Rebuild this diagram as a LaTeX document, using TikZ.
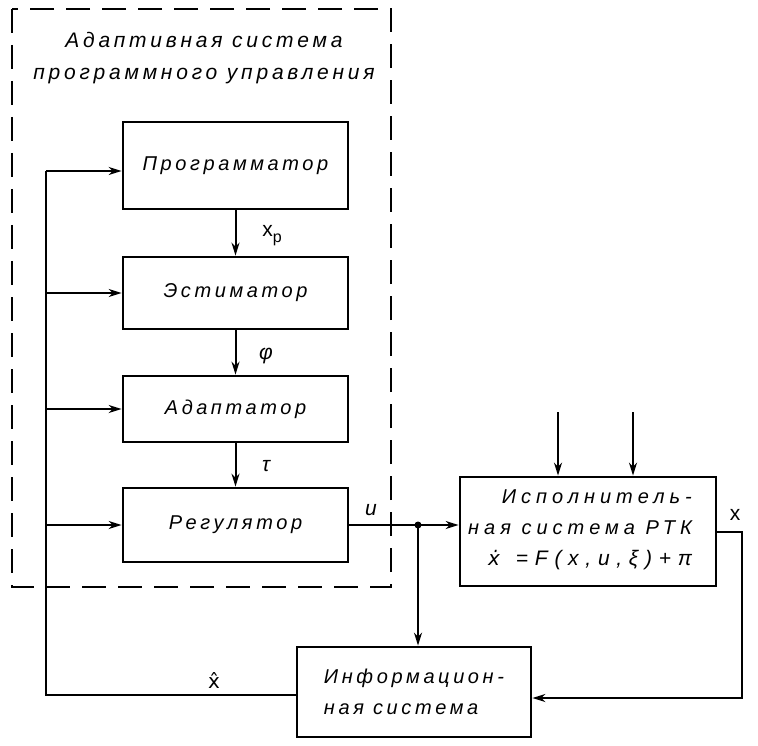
\documentclass[tikz,border=0pt]{standalone}
\usepackage{fontspec}
\setmainfont{Liberation Sans}
\newfontfamily\dfont[LetterSpace=18]{Liberation Sans}
\newfontfamily\sfont[LetterSpace=25]{Liberation Sans}
\newfontfamily\ffont[LetterSpace=32]{Liberation Sans}
\newfontfamily\lfont{Liberation Sans}
\newfontfamily\dvfont{DejaVu Sans}[ItalicFont={DejaVu Sans Oblique}]
\usetikzlibrary{arrows.meta}
\begin{document}
\begin{tikzpicture}[x=1pt,y=-1pt,
  blk/.style={draw, line width=2.8pt, inner sep=0pt, font=\dfont\itshape\fontsize{20}{31}\selectfont},
  conn/.style={line width=2pt},
  arr/.style={conn, -{Stealth[length=13pt,width=8pt]}},
  lbl/.style={inner sep=0pt, font=\lfont\itshape\fontsize{21}{24}\selectfont}]
\fill[white] (0,0) rectangle (758,746);
\useasboundingbox (0,0) rectangle (758,746);

% dashed frame
\draw[line width=2pt, dash pattern=on 24pt off 12pt] (12,9) rectangle (391,587);
\node[font=\dfont\itshape\fontsize{21}{32}\selectfont, align=center, inner sep=0pt] (title) at (204,58)
  {Адаптивная система\\программного управления};

% blocks
\node[blk, minimum width=225pt, minimum height=87pt] (prog) at (235.5,165.5) {Программатор};
\node[blk, minimum width=225pt, minimum height=72pt] (est) at (235.5,293) {Эстиматор};
\node[blk, minimum width=225pt, minimum height=66pt] (adapt) at (235.5,409) {Адаптатор};
\node[blk, minimum width=225pt, minimum height=74pt] (reg) at (235.5,525) {Регулятор};
\node[blk, minimum width=256pt, minimum height=109pt] (isp) at (588,531.5) {};
\node[inner sep=0pt, align=right, font=\sfont\itshape\fontsize{20}{31}\selectfont] (isptext) at (580,530)
  {Исполнитель-\\ная система РТК\\{\ffont\itshape\fontsize{21}{31}\selectfont{\dvfont\itshape\fontsize{20}{31}\selectfont ẋ}\ \,=F(x,u,ξ)+π}};
\node[blk, minimum width=234pt, minimum height=90pt, align=left] (info) at (414,692)
  {Информацион-\\ная система};

% vertical chain
\draw[arr] (prog.south) -- (est.north);
\draw[arr] (est.south) -- (adapt.north);
\draw[arr] (adapt.south) -- (reg.north);
\node[lbl, font=\lfont\fontsize{21}{24}\selectfont] (lxp) at (272,236) {x\raisebox{-6pt}{\fontsize{16}{16}\selectfont p}};
\node[lbl] (lphi) at (266,356) {φ};
\node[lbl] (ltau) at (266,466) {τ};

% u line and junction
\coordinate (j) at (418,525);
\draw[arr] (reg.east) -- (reg.east -| isp.west);
\fill (j) circle (3.5pt);
\draw[arr] (j) -- (j |- info.north);
\node[lbl] (lu) at (371,510) {u};

% disturbance inputs
\coordinate (d1) at (558,412);
\coordinate (d2) at (633,412);
\draw[arr] (d1) -- (d1 |- isp.north);
\draw[arr] (d2) -- (d2 |- isp.north);

% output x
\coordinate (xc) at (742,600);
\draw[arr] (isp.east) -| (xc) |- ([yshift=-6pt]info.east);
\node[lbl, font=\lfont\fontsize{21}{24}\selectfont] (lx) at (735,515) {x};

% feedback x-hat
\coordinate (fbt) at (46,171);
\draw[conn] ([yshift=-3pt]info.west) -| (fbt);
\draw[arr] (fbt) -- (fbt -| prog.west);
\draw[arr] (est.west -| fbt) -- (est.west);
\draw[arr] (adapt.west -| fbt) -- (adapt.west);
\draw[arr] (reg.west -| fbt) -- (reg.west);
\node[lbl, font=\dvfont\fontsize{20}{24}\selectfont] (lxh) at (214,680) {x̂};
\end{tikzpicture}
\end{document}
